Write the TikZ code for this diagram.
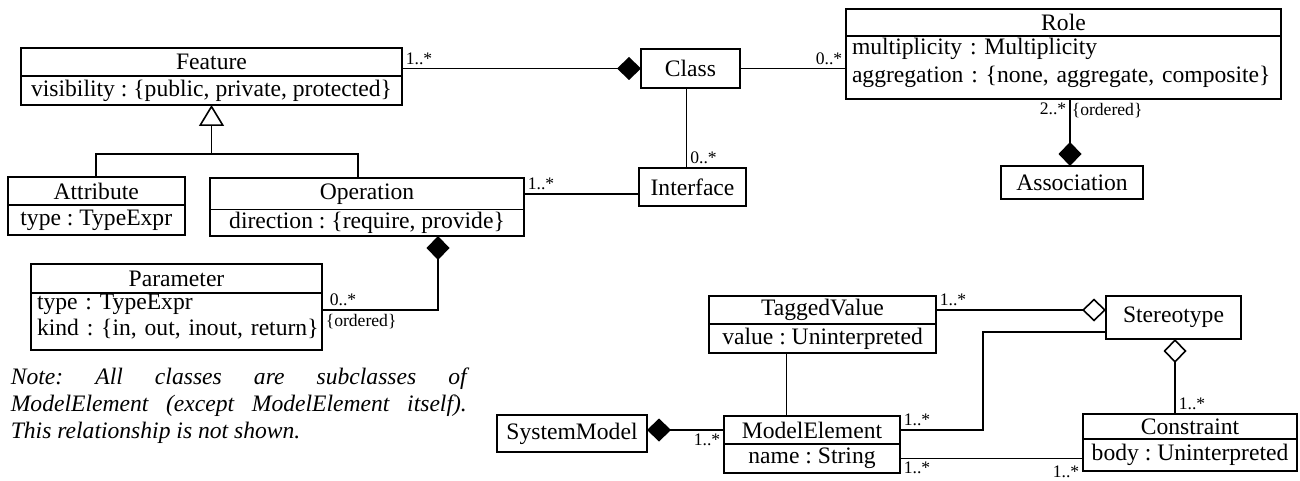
\documentclass[tikz,border=0pt]{standalone}
\usepackage{fontspec}
\setmainfont{Liberation Serif}
\frenchspacing
\usetikzlibrary{positioning, arrows.meta}

\begin{document}
\begin{tikzpicture}[x=0.5pt, y=-0.5pt, line width=0.8pt,
	uml/.style={draw, inner sep=0pt, outer sep=0pt, font=\fontsize{11.8}{13.5}\selectfont},
	attrs/.style={uml, align=left, inner xsep=3pt, inner ysep=0.5pt, text width=#1},
	mult/.style={font=\fontsize{8.8}{10}\selectfont, inner sep=1.5pt},
	comp/.style={-{Diamond[length=12pt, width=11.5pt]}},
	aggr/.style={-{Diamond[open, length=12pt, width=11.5pt]}},
	gen/.style={-{Triangle[open, length=10.5pt, width=12.5pt]}}]
	\useasboundingbox (0,0) rectangle (1300,481);

  		\node[uml, minimum width=190.5pt, minimum height=14pt] (feature) at (211.5,62) {Feature};
  		\node[uml, minimum width=190.5pt, minimum height=14.5pt, below=0pt of feature] (featureb) {visibility : \{public, private, protected\}};
  		\node[uml, minimum width=88.5pt, minimum height=14pt] (attribute) at (96.25,191) {Attribute};
  		\node[uml, minimum width=88.5pt, minimum height=15pt, below=0pt of attribute] (attributeb) {type : TypeExpr};
  		\node[uml, minimum width=157pt, minimum height=15.75pt] (operation) at (367,193.75) {Operation};
  		\node[uml, minimum width=157pt, minimum height=13.25pt, below=0pt of operation] (operationb) {direction : \{require, provide\}};
  		\node[uml, minimum width=145.5pt, minimum height=14.5pt] (parameter) at (176.5,278.5) {Parameter};
  		\node[attrs=139.5pt, font=\fontsize{11.8}{13}\selectfont, minimum height=28.5pt, below=0pt of parameter] (parameterb) {\mbox{type : TypeExpr}\\\mbox{kind : \{in, out, inout, return\}}\rule[-6.7pt]{0pt}{0pt}};
  		\node[uml, minimum width=217.5pt, minimum height=13.5pt] (role) at (1063.5,22.5) {Role};
  		\node[attrs=211.5pt, font=\fontsize{11.8}{14}\selectfont, minimum height=31.5pt, below=0pt of role] (roleb) {\mbox{multiplicity : Multiplicity}\\\mbox{aggregation : \{none, aggregate, composite\}}\rule[-7.4pt]{0pt}{0pt}};
  		\node[uml, minimum width=113.5pt, minimum height=14pt] (taggedvalue) at (822.5,310) {TaggedValue};
  		\node[uml, minimum width=113.5pt, minimum height=14.5pt, below=0pt of taggedvalue] (taggedvalueb) {value : Uninterpreted};
  		\node[uml, minimum width=88pt, minimum height=14pt] (modelelement) at (812,430) {ModelElement};
  		\node[uml, minimum width=88pt, minimum height=14.5pt, below=0pt of modelelement] (modelelementb) {name : String};
  		\node[uml, minimum width=107pt, minimum height=12.5pt] (constraint) at (1190,426.5) {Constraint};
  		\node[uml, minimum width=107pt, minimum height=16pt, below=0pt of constraint] (constraintb) {body : Uninterpreted};

  		\node[uml, minimum width=49.5pt, minimum height=19.5pt] (class) at (690.5,68.5) {Class};
  		\node[uml, minimum width=53.5pt, minimum height=19pt] (interface) at (692.5,187) {Interface};
  		\node[uml, minimum width=71pt, minimum height=16.5pt] (association) at (1072,182.5) {Association};
  		\node[uml, minimum width=75pt, minimum height=18.5pt] (systemmodel) at (572,433.5) {SystemModel};
  		\node[uml, minimum width=67.5pt, minimum height=21.5pt] (stereotype) at (1173.5,317.5) {Stereotype};

  		\node[anchor=north west, inner sep=0pt, text width=228pt, align=justify, font=\itshape\fontsize{11.8}{13.5}\selectfont] (note) at (10,367) {Note: All classes are subclasses of\linebreak ModelElement (except ModelElement itself).\linebreak This relationship is not shown.};

		\draw[comp] (feature.east |- class.west) node[mult, above right] {1..*} -- (class.west);
		\coordinate (genfork) at (featureb.south |- 0,154);
		\draw (attribute.north) |- (genfork) -| ([xshift=-4.5pt]operation.north);
		\draw[gen] (genfork) -- (featureb.south);
		\draw (class.east) -- (class.east -| roleb.west) node[mult, above left] {0..*};
		\draw ([xshift=-2pt]class.south) -- ([xshift=-2pt]class.south |- interface.north) node[mult, above right] {0..*};
		\draw (operation.east) node[mult, above right] {1..*} -- (operation.east -| interface.west);
		\draw[comp] ([xshift=-1pt]association.north |- roleb.south) node[mult, below left] {2..*} node[mult, below right, inner xsep=0.5pt] {\{ordered\}} -- ([xshift=-1pt]association.north);
		\draw[comp] ([yshift=5.75pt]parameterb.east) node[mult, above right, xshift=2pt] {0..*} node[mult, below right] {\{ordered\}} -| ([xshift=35.5pt]operationb.south);
		\draw[aggr] (taggedvalue.east) node[mult, above right] {1..*} -- (taggedvalue.east -| stereotype.west);
		\draw ([yshift=-7.25pt]stereotype.west) -- ++(-61.5pt,0) |- (modelelement.east) node[mult, above right] {1..*};
		\draw ([xshift=-12.75pt]modelelement.north) -- ([xshift=-12.75pt]modelelement.north |- taggedvalueb.south);
		\draw[comp] (modelelement.west) node[mult, below left] {1..*} -- (modelelement.west -| systemmodel.east);
		\draw (modelelementb.east) node[mult, below right] {1..*} -- (modelelementb.east -| constraintb.west) node[mult, below left, yshift=-2pt] {1..*};
		\draw[aggr] ([xshift=0.75pt]stereotype.south |- constraint.north) node[mult, above right] {1..*} -- ([xshift=0.75pt]stereotype.south);
	\end{tikzpicture}
\end{document}
